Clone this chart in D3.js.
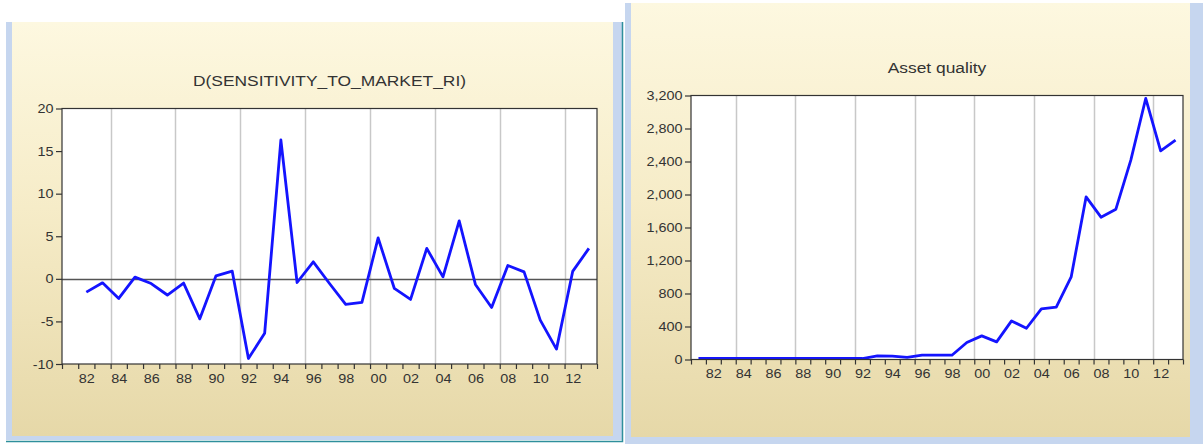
<!DOCTYPE html>
<html>
<head>
<meta charset="utf-8">
<script src="https://cdn.jsdelivr.net/npm/d3@7"></script>
<style>
  html, body { margin: 0; padding: 0; background: #ffffff; }
  svg { display: block; }
  text { font-family: "Liberation Sans", Arial, sans-serif; fill: #333333; }
</style>
</head>
<body>
<svg id="chart" width="1203" height="444"></svg>
<script>
// ---- data -------------------------------------------------------------
// First difference of the sensitivity-to-market-risk index, 1982-2013
const sensYears = d3.range(1982, 2014);
const sensValues = [
  -1.56, -0.47, -2.3, 0.2, -0.55, -1.9, -0.5, -4.7, 0.35, 0.9,
  -9.35, -6.4, 16.3, -0.43, 2.0, -0.55, -3.0, -2.77, 4.8, -1.13,
  -2.42, 3.57, 0.23, 6.8, -0.66, -3.36, 1.57, 0.82, -4.85, -8.25,
  0.87, 3.57
];

// Asset quality level, 1981-2013
const assetYears = d3.range(1981, 2014);
const assetValues = [
  12, 12, 12, 12, 12, 12, 12, 12, 12, 12, 12, 12,
  44, 42, 27, 52, 52, 52, 206, 286, 214, 468, 379, 614,
  634, 1001, 1971, 1725, 1822, 2416, 3164, 2529, 2658
];

// Axis ticks / labels
const yearBoundaries = d3.range(1981, 2015);
const labelYears = d3.range(1982, 2013, 2);
const gridYears = d3.range(1984, 2013, 4);
const sensTicks = [-10, -5, 0, 5, 10, 15, 20];
const assetTicks = d3.range(0, 3201, 400);

const sensTitle = "D(SENSITIVITY_TO_MARKET_RI)";
const assetTitle = "Asset quality";

// ---- drawing ----------------------------------------------------------
const svg = d3.select("#chart");
const defs = svg.append("defs");
const grad = defs.append("linearGradient")
  .attr("id", "cream").attr("x1", 0).attr("y1", 0).attr("x2", 0).attr("y2", 1);
grad.append("stop").attr("offset", "0%").attr("stop-color", "#fdf8e0");
grad.append("stop").attr("offset", "45%").attr("stop-color", "#f6ecc8");
grad.append("stop").attr("offset", "100%").attr("stop-color", "#e6d8a8");

const TX = 1.2; // horizontal stretch of all text

function panelFrame(x0, y0, x1, y1, inner) {
  svg.append("rect").attr("x", x0).attr("y", y0)
    .attr("width", x1 - x0).attr("height", y1 - y0)
    .attr("fill", "#c6d6ef");
  svg.append("rect").attr("x", inner[0]).attr("y", inner[1])
    .attr("width", inner[2] - inner[0]).attr("height", inner[3] - inner[1])
    .attr("fill", "url(#cream)");
}

// left panel with its teal edge
panelFrame(6, 22, 622, 440, [12, 22, 613, 436]);
svg.append("path").attr("d", "M6,441.5H622.5V22")
  .attr("fill", "none").attr("stroke", "#2e8f9c").attr("stroke-width", 1.5);
// right panel
panelFrame(625, 3, 1203, 444, [631, 3, 1190, 437]);

function drawChart(opt) {
  const { left, right, top, bottom, yDomain, yTicks, yFormat,
          years, values, title, titleY, zeroLine } = opt;
  const x = d3.scaleLinear().domain([1981, 2014]).range([left, right]);
  const y = d3.scaleLinear().domain(yDomain).range([bottom, top]);
  const g = svg.append("g");

  // plot background
  g.append("rect").attr("x", left).attr("y", top)
    .attr("width", right - left).attr("height", bottom - top)
    .attr("fill", "#ffffff");

  // vertical grid every four years
  g.append("g").selectAll("line").data(gridYears).join("line")
    .attr("x1", d => Math.round(x(d)) + 0.5).attr("x2", d => Math.round(x(d)) + 0.5)
    .attr("y1", top).attr("y2", bottom)
    .attr("stroke", "#c8c8c8").attr("stroke-width", 1.5);

  if (zeroLine) {
    g.append("line")
      .attr("x1", left).attr("x2", right)
      .attr("y1", Math.round(y(0)) + 0.5).attr("y2", Math.round(y(0)) + 0.5)
      .attr("stroke", "#555555").attr("stroke-width", 1.3);
  }

  // series
  const line = d3.line()
    .x((d, i) => x(years[i] + 0.5))
    .y(d => y(d))
    .curve(d3.curveLinear);
  g.append("path").datum(values)
    .attr("d", line)
    .attr("fill", "none").attr("stroke", "#1414ff")
    .attr("stroke-width", 2.8).attr("stroke-linejoin", "round");

  // frame
  g.append("rect").attr("x", left).attr("y", top)
    .attr("width", right - left).attr("height", bottom - top)
    .attr("fill", "none").attr("stroke", "#333333").attr("stroke-width", 1.2);

  // y axis
  const yAxis = g.append("g").attr("transform", `translate(${left},0)`)
    .call(d3.axisLeft(y).tickValues(yTicks).tickSize(6).tickFormat(yFormat));
  yAxis.select(".domain").remove();
  yAxis.selectAll(".tick line").attr("stroke", "#333333").attr("stroke-width", 1.2);
  yAxis.selectAll(".tick text")
    .attr("x", -8.5 / TX).attr("dy", "0.34em")
    .attr("transform", `scale(${TX},1)`)
    .style("font-size", "12px").style("font-family", "Liberation Sans, Arial, sans-serif")
    .attr("fill", "#333333");

  // x axis: year boundary ticks
  const xTickAxis = g.append("g").attr("transform", `translate(0,${bottom})`)
    .call(d3.axisBottom(x).tickValues(yearBoundaries).tickSize(5).tickFormat(""));
  xTickAxis.select(".domain").remove();
  xTickAxis.selectAll(".tick line").attr("stroke", "#333333").attr("stroke-width", 1.2);

  // x axis: labels centred on every other year
  const xLabelAxis = g.append("g").attr("transform", `translate(0,${bottom})`)
    .call(d3.axisBottom(x).tickValues(labelYears.map(d => d + 0.5)).tickSize(0)
      .tickFormat(d => String(Math.floor(d) % 100).padStart(2, "0")));
  xLabelAxis.select(".domain").remove();
  xLabelAxis.selectAll(".tick text")
    .attr("y", 19).attr("dy", null)
    .attr("transform", `scale(${TX},1)`)
    .style("font-size", "12px").style("font-family", "Liberation Sans, Arial, sans-serif")
    .attr("fill", "#333333");

  // title
  svg.append("text")
    .attr("transform", `translate(${(left + right) / 2},${titleY}) scale(${TX},1)`)
    .attr("text-anchor", "middle")
    .style("font-size", "14.5px")
    .text(title);
}

drawChart({
  left: 62, right: 597, top: 108.5, bottom: 364,
  yDomain: [-10, 20], yTicks: sensTicks, yFormat: d => String(d),
  years: sensYears, values: sensValues,
  title: sensTitle, titleY: 86, zeroLine: true
});

drawChart({
  left: 691, right: 1183, top: 95.5, bottom: 359.5,
  yDomain: [0, 3200], yTicks: assetTicks, yFormat: d3.format(","),
  years: assetYears, values: assetValues,
  title: assetTitle, titleY: 73, zeroLine: false
});
</script>
</body>
</html>
